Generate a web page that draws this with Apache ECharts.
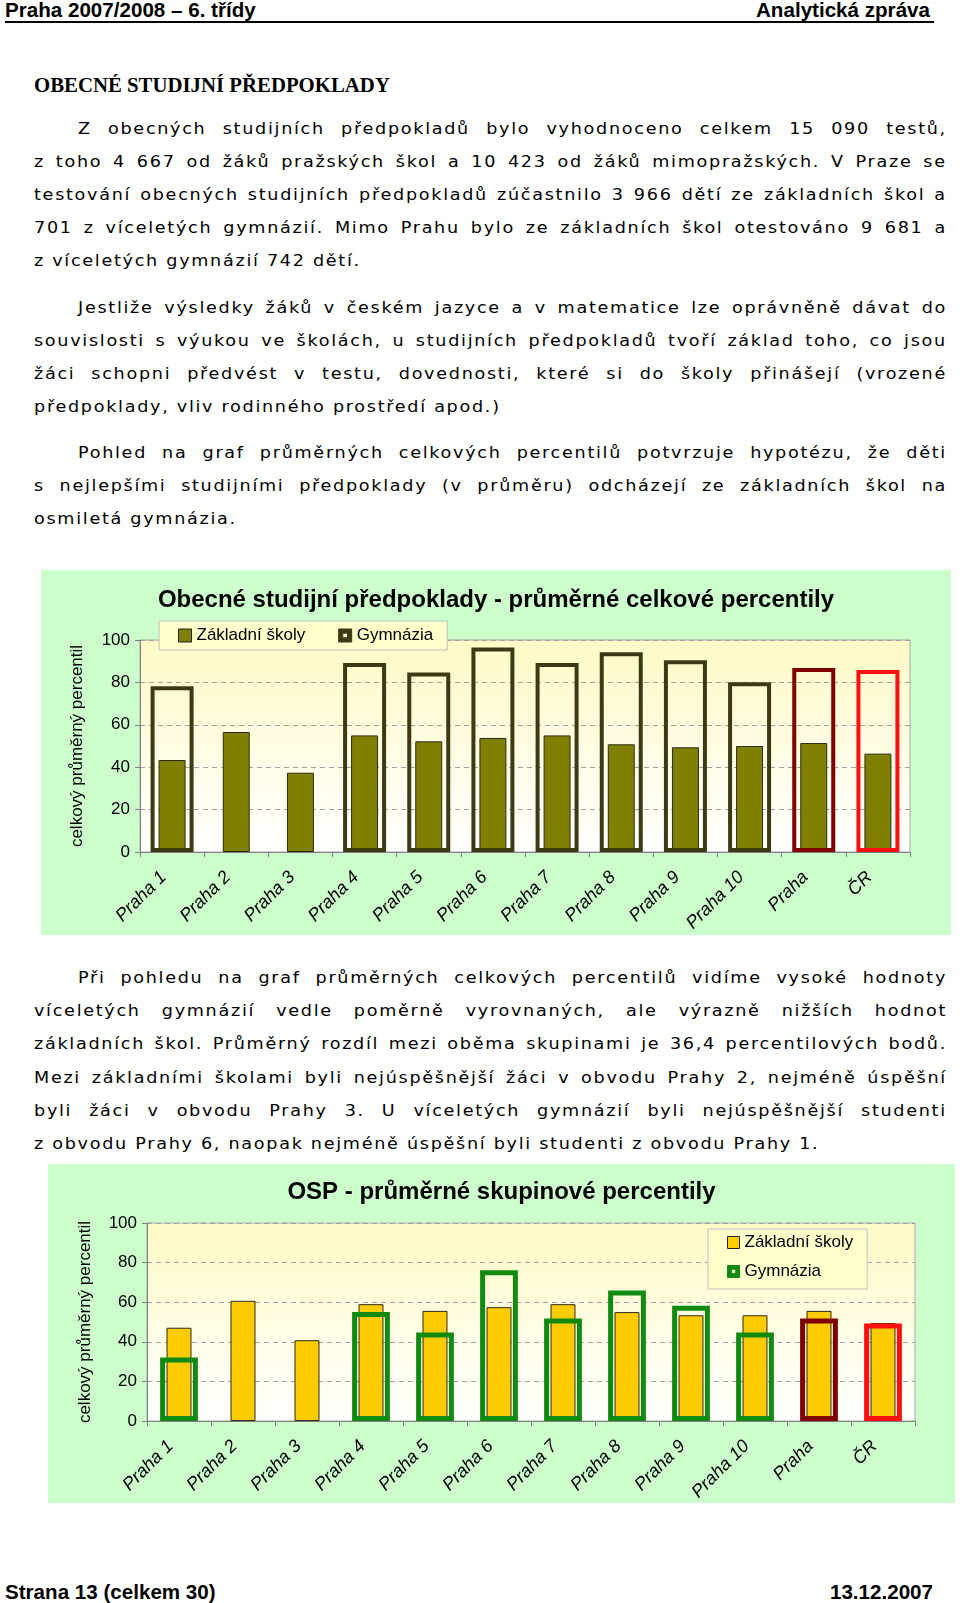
<!DOCTYPE html>
<html>
<head>
<meta charset="utf-8">
<script src="https://cdn.jsdelivr.net/npm/echarts@6/dist/echarts.min.js"></script>
<style>
  html, body { margin: 0; padding: 0; background: #fff; }
  body { position: relative; width: 960px; height: 1603px; overflow: hidden; }
  .hdr { position: absolute; font-family: 'Liberation Sans', Arial, sans-serif; font-weight: bold; font-size: 20.6px; line-height: 20px; color: #000; white-space: nowrap; }
  .rule { position: absolute; left: 5px; top: 21px; width: 929px; height: 2px; background: #000; }
  .heading { position: absolute; left: 34px; top: 73px; font-family: 'Liberation Serif', 'Times New Roman', serif; font-weight: bold; font-size: 20.8px; line-height: 24px; white-space: nowrap; color: #000; }
  .para { position: absolute; left: 34px; width: 830px; transform: scaleX(1.1); transform-origin: 0 0; font-family: 'DejaVu Sans', Verdana, sans-serif; font-size: 16px; letter-spacing: 1.55px; line-height: 33.2px; color: #000; }
  .line { height: 33.2px; white-space: nowrap; }
  .line.just { display: flex; justify-content: space-between; }
  .line.indent { padding-left: 40px; }
  .chartbox { position: absolute; outline: 2px solid #8f8f8f; outline-offset: -2px; }
</style>
</head>
<body>
<div class="hdr" style="left:5px;top:0px;">Praha 2007/2008 – 6. třídy</div>
<div class="hdr" style="right:30px;top:0px;">Analytická zpráva</div>
<div class="rule"></div>
<div class="heading">OBECNÉ STUDIJNÍ PŘEDPOKLADY</div>

<div id="p1" class="para" style="top:111.5px"></div>
<div id="p2" class="para" style="top:290.5px"></div>
<div id="p3" class="para" style="top:435.7px"></div>
<div id="chart1" class="chartbox" style="left:41px;top:570px;width:910px;height:365px;"></div>
<div id="p4" class="para" style="top:961px"></div>
<div id="chart2" class="chartbox" style="left:48px;top:1164px;width:907px;height:339px;"></div>

<div class="hdr" style="left:5px;top:1582px;">Strana 13 (celkem 30)</div>
<div class="hdr" style="right:27px;top:1582px;">13.12.2007</div>

<script>
// ---------- DATA ----------
const categories = ['Praha 1', 'Praha 2', 'Praha 3', 'Praha 4', 'Praha 5', 'Praha 6', 'Praha 7', 'Praha 8', 'Praha 9', 'Praha 10', 'Praha', 'ČR'];
const seriesNames = ['Základní školy', 'Gymnázia'];

// Chart 1: Obecné studijní předpoklady - průměrné celkové percentily
const osZakladni = [43.4, 56.6, 37.4, 55.0, 52.2, 53.8, 55.0, 50.8, 49.4, 50.0, 51.4, 46.4];
const osGymnazia = [78.2, null, null, 89.1, 84.7, 96.5, 89.1, 94.2, 90.5, 80.1, 86.8, 85.8];

// Chart 2: OSP - průměrné skupinové percentily
const ospZakladni = [47.1, 60.7, 40.8, 59.0, 55.6, 57.5, 59.0, 55.0, 53.4, 53.4, 55.6, 49.5];
const ospGymnazia = [32.1, null, null, 55.0, 44.7, 76.1, 51.8, 65.9, 58.2, 44.7, 51.8, 49.2];

const yTicks = [0, 20, 40, 60, 80, 100];
const title1 = 'Obecné studijní předpoklady - průměrné celkové percentily';
const title2 = 'OSP - průměrné skupinové percentily';
const yName = 'celkový průměrný percentil';

// ---------- TEXT ----------
const para1 = [
  'Z obecných studijních předpokladů bylo vyhodnoceno celkem 15 090 testů,',
  'z toho 4 667 od žáků pražských škol a 10 423 od žáků mimopražských. V Praze se',
  'testování obecných studijních předpokladů zúčastnilo 3 966 dětí ze základních škol a',
  '701 z víceletých gymnázií. Mimo Prahu bylo ze základních škol otestováno 9 681 a',
  'z víceletých gymnázií 742 dětí.'
];
const para2 = [
  'Jestliže výsledky žáků v českém jazyce a v matematice lze oprávněně dávat do',
  'souvislosti s výukou ve školách, u studijních předpokladů tvoří základ toho, co jsou',
  'žáci schopni předvést v testu, dovednosti, které si do školy přinášejí (vrozené',
  'předpoklady, vliv rodinného prostředí apod.)'
];
const para3 = [
  'Pohled na graf průměrných celkových percentilů potvrzuje hypotézu, že děti',
  's nejlepšími studijními předpoklady (v průměru) odcházejí ze základních škol na',
  'osmiletá gymnázia.'
];
const para4 = [
  'Při pohledu na graf průměrných celkových percentilů vidíme vysoké hodnoty',
  'víceletých gymnázií vedle poměrně vyrovnaných, ale výrazně nižších hodnot',
  'základních škol. Průměrný rozdíl mezi oběma skupinami je 36,4 percentilových bodů.',
  'Mezi základními školami byli nejúspěšnější žáci v obvodu Prahy 2, nejméně úspěšní',
  'byli žáci v obvodu Prahy 3. U víceletých gymnázií byli nejúspěšnější studenti',
  'z obvodu Prahy 6, naopak nejméně úspěšní byli studenti z obvodu Prahy 1.'
];

function fillPara(id, lines) {
  const el = document.getElementById(id);
  lines.forEach((t, i) => {
    const d = document.createElement('div');
    d.className = 'line';
    if (i === 0) d.classList.add('indent');
    if (i < lines.length - 1) {
      d.classList.add('just');
      t.split(' ').forEach(w => {
        const s = document.createElement('span');
        s.textContent = w;
        d.appendChild(s);
      });
    } else {
      d.textContent = t;
    }
    el.appendChild(d);
  });
}
fillPara('p1', para1);
fillPara('p2', para2);
fillPara('p3', para3);
fillPara('p4', para4);

// ---------- CHARTS ----------
const FF = "'Liberation Sans', Arial, sans-serif";
// legend icons: solid square and hollow square (outer square with inner hole)
const solidIcon = 'path://M0,0H11V11H0Z';
const hollowIcon = 'path://M0,0H11V11H0Z M3.5,3.5V7.5H7.5V3.5Z';

function gymData(vals, base, prahaColor, crColor) {
  return vals.map((v, i) => {
    if (v == null) return '-';
    let c = base;
    if (categories[i] === 'Praha') c = prahaColor;
    if (categories[i] === 'ČR') c = crColor;
    return { value: v, itemStyle: { borderColor: c } };
  });
}

function build(id, cfg) {
  const chart = echarts.init(document.getElementById(id));
  const axisGray = '#808080';
  chart.setOption({
    animation: false,
    backgroundColor: '#ccffcc',
    title: {
      text: cfg.title, left: 'center', top: cfg.titleTop, padding: 0,
      textStyle: { fontFamily: FF, fontSize: 24, fontWeight: 'bold', color: '#000' }
    },
    legend: Object.assign({
      backgroundColor: '#ffffcc',
      borderColor: '#c0c0c0',
      borderWidth: 1,
      borderRadius: 0,
      textStyle: { fontFamily: FF, fontSize: 17, color: '#000' },
      data: [
        { name: seriesNames[0], icon: solidIcon, itemStyle: { color: cfg.zsColor, borderColor: '#222', borderWidth: 1 } },
        { name: seriesNames[1], icon: hollowIcon, itemStyle: { color: cfg.gymColor, borderColor: cfg.gymColor, borderWidth: 1 } }
      ]
    }, cfg.legend),
    grid: Object.assign({
      show: true,
      backgroundColor: new echarts.graphic.LinearGradient(0, 0, 0, 1, [
        { offset: 0, color: '#fffac6' },
        { offset: 1, color: '#ffffff' }
      ]),
      borderColor: '#a8a8a8',
      borderWidth: 1,
      containLabel: false,
      outerBoundsMode: 'none'
    }, cfg.grid),
    xAxis: [
      {
        type: 'category', data: categories, boundaryGap: true,
        axisLine: { show: true, lineStyle: { color: axisGray, width: 1 } },
        axisTick: { show: true, length: 5, alignWithLabel: false, lineStyle: { color: axisGray } },
        axisLabel: { interval: 0, rotate: 45, margin: 14, padding: [0, 12, 0, 0], fontFamily: FF, fontStyle: 'italic', fontSize: 18, color: '#000' },
        splitLine: { show: false }
      },
      { type: 'category', data: categories, show: false, boundaryGap: true }
    ],
    yAxis: {
      type: 'value',
      min: yTicks[0], max: yTicks[yTicks.length - 1], interval: yTicks[1] - yTicks[0],
      name: yName, nameLocation: 'middle', nameGap: cfg.nameGap, nameMoveOverlap: false,
      nameTextStyle: { fontFamily: FF, fontSize: 17, color: '#000' },
      axisLine: { show: true, lineStyle: { color: axisGray } },
      axisTick: { show: true, length: 5, lineStyle: { color: axisGray } },
      axisLabel: { fontFamily: FF, fontSize: 17, color: '#000', margin: 10 },
      splitLine: { show: true, lineStyle: { color: '#a0a0a0', type: [5, 4], width: 1 } }
    },
    series: [
      {
        name: seriesNames[0], type: 'bar', xAxisIndex: 0, barWidth: cfg.zsWidth, z: 2,
        itemStyle: { color: cfg.zsColor, borderColor: '#2a2a14', borderWidth: 1 },
        data: cfg.zs
      },
      {
        name: seriesNames[1], type: 'bar', xAxisIndex: 1, barWidth: cfg.gymWidth, z: 3,
        itemStyle: { color: 'rgba(0,0,0,0)', borderColor: cfg.gymColor, borderWidth: cfg.gymBorder },
        data: gymData(cfg.gym, cfg.gymColor, '#800000', '#ff1010')
      }
    ]
  });
}

build('chart1', {
  title: title1, titleTop: 18,
  grid: { left: 99, right: 41, top: 70, bottom: 83 },
  legend: { orient: 'horizontal', left: 118, top: 51, itemWidth: 13, itemHeight: 13, itemGap: 33, padding: [6, 14, 6, 19] },
  nameGap: 54,
  zsColor: '#808000', gymColor: '#3c3a14',
  zsWidth: '42%', gymWidth: '67%', gymBorder: 4,
  zs: osZakladni, gym: osGymnazia
});

build('chart2', {
  title: title2, titleTop: 16,
  grid: { left: 99, right: 40, top: 59, bottom: 82 },
  legend: { orient: 'vertical', left: 660, top: 65, itemWidth: 12, itemHeight: 12, itemGap: 12, padding: [5, 14, 9, 19] },
  nameGap: 53,
  zsColor: '#ffcc00', gymColor: '#108a10',
  zsWidth: '39%', gymWidth: '59%', gymBorder: 5,
  zs: ospZakladni, gym: ospGymnazia
});
</script>
</body>
</html>
